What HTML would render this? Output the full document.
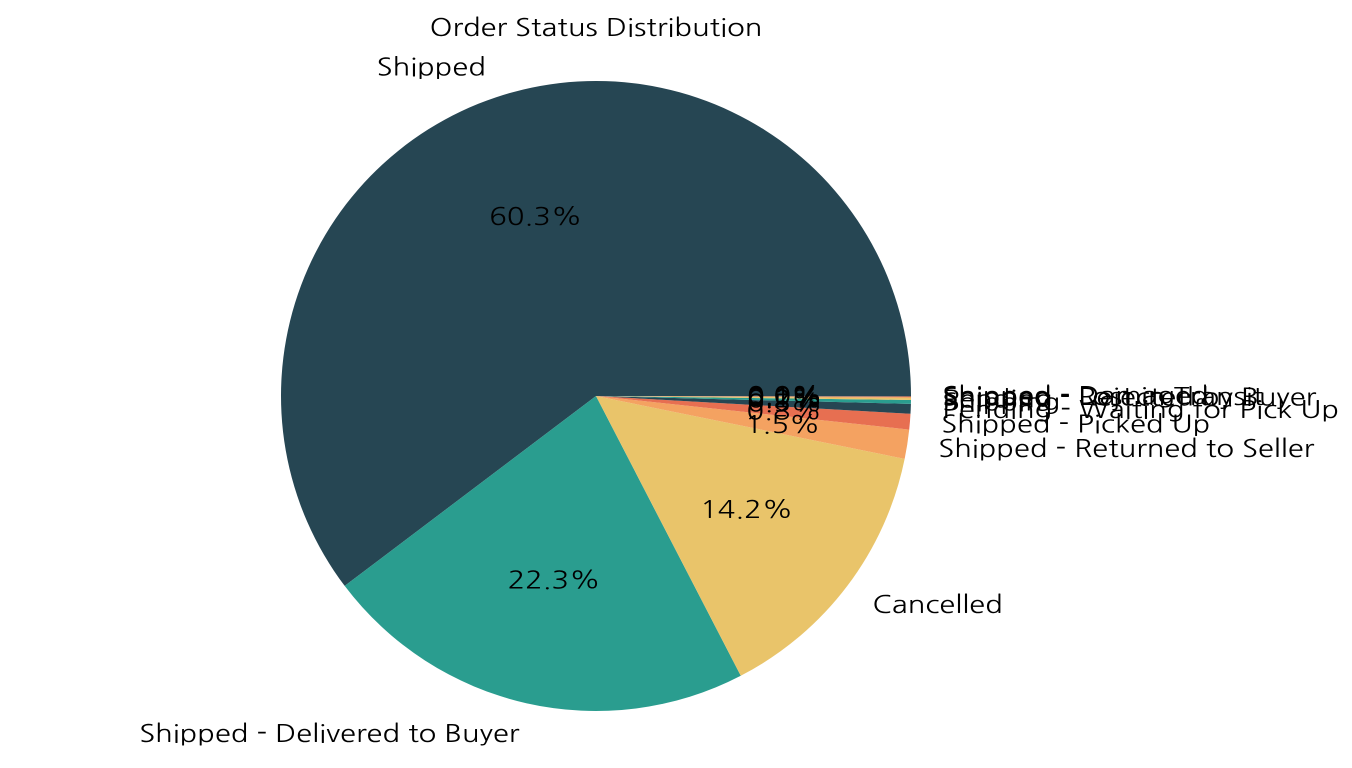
<!DOCTYPE html>
<html><head><meta charset="utf-8"><style>
body{margin:0;background:#fff;}
svg text{font-family:"NanumGothic","Noto Sans CJK KR","Liberation Sans",sans-serif;fill:#000;}
</style></head><body>
<svg id="chart" width="1352" height="763">
<text id="title" x="596" y="28" font-size="24" text-anchor="middle" dominant-baseline="central">Order Status Distribution</text>
<g id="slices"></g><g id="labels"></g>
</svg>
<script>
const categories=["Shipped","Shipped - Delivered to Buyer","Cancelled","Shipped - Returned to Seller","Shipped - Picked Up","Pending - Waiting for Pick Up","Shipping","Pending","Shipped - Rejected by Buyer","Shipped - Lost in Transit","Shipped - Damaged"];
const values=[60.3,22.3,14.2,1.5,0.8,0.5,0.2,0.1,0.05,0.03,0.02];
const colors=["#264653","#2a9d8f","#e9c46a","#f4a261","#e76f51"];
const cx=596,cy=396,r=315,NS="http://www.w3.org/2000/svg";
const total=values.reduce((a,b)=>a+b,0);
const gs=document.getElementById('slices'),gl=document.getElementById('labels');
const texts=[];
let a0=0;
values.forEach((v,i)=>{
  const a1=a0+v/total*2*Math.PI;
  const p=(a)=>[cx+r*Math.cos(a),cy-r*Math.sin(a)];
  const [x0,y0]=p(a0),[x1,y1]=p(a1);
  const path=document.createElementNS(NS,'path');
  path.setAttribute('d',`M${cx},${cy}L${x0},${y0}A${r},${r} 0 ${a1-a0>Math.PI?1:0} 0 ${x1},${y1}Z`);
  path.setAttribute('fill',colors[i%5]);
  
  
  gs.appendChild(path);
  const m=(a0+a1)/2;
  const lx=cx+1.1*r*Math.cos(m),ly=cy-1.1*r*Math.sin(m);
  const t=document.createElementNS(NS,'text');
  t.setAttribute('x',lx);t.setAttribute('y',ly);t.setAttribute('font-size','24');
  t.setAttribute('text-anchor',Math.cos(m)>=0?'start':'end');
  t.setAttribute('dominant-baseline','central');
  t.textContent=categories[i];
  
  
  gl.appendChild(t);texts.push(t);
  const px=cx+0.6*r*Math.cos(m),py=cy-0.6*r*Math.sin(m);
  const q=document.createElementNS(NS,'text');
  q.setAttribute('x',px);q.setAttribute('y',py);q.setAttribute('font-size','24');
  q.setAttribute('text-anchor','middle');q.setAttribute('dominant-baseline','central');
  q.textContent=(v/total*100).toFixed(1)+'%';
  
  
  gl.appendChild(q);texts.push(q);
  a0=a1;
});
texts.push(document.getElementById('title'));
const k=380/texts[2].getComputedTextLength();
texts.forEach(t=>{const w=t.getComputedTextLength();t.setAttribute('textLength',w*k);t.setAttribute('lengthAdjust','spacingAndGlyphs');});
</script>
</body></html>
